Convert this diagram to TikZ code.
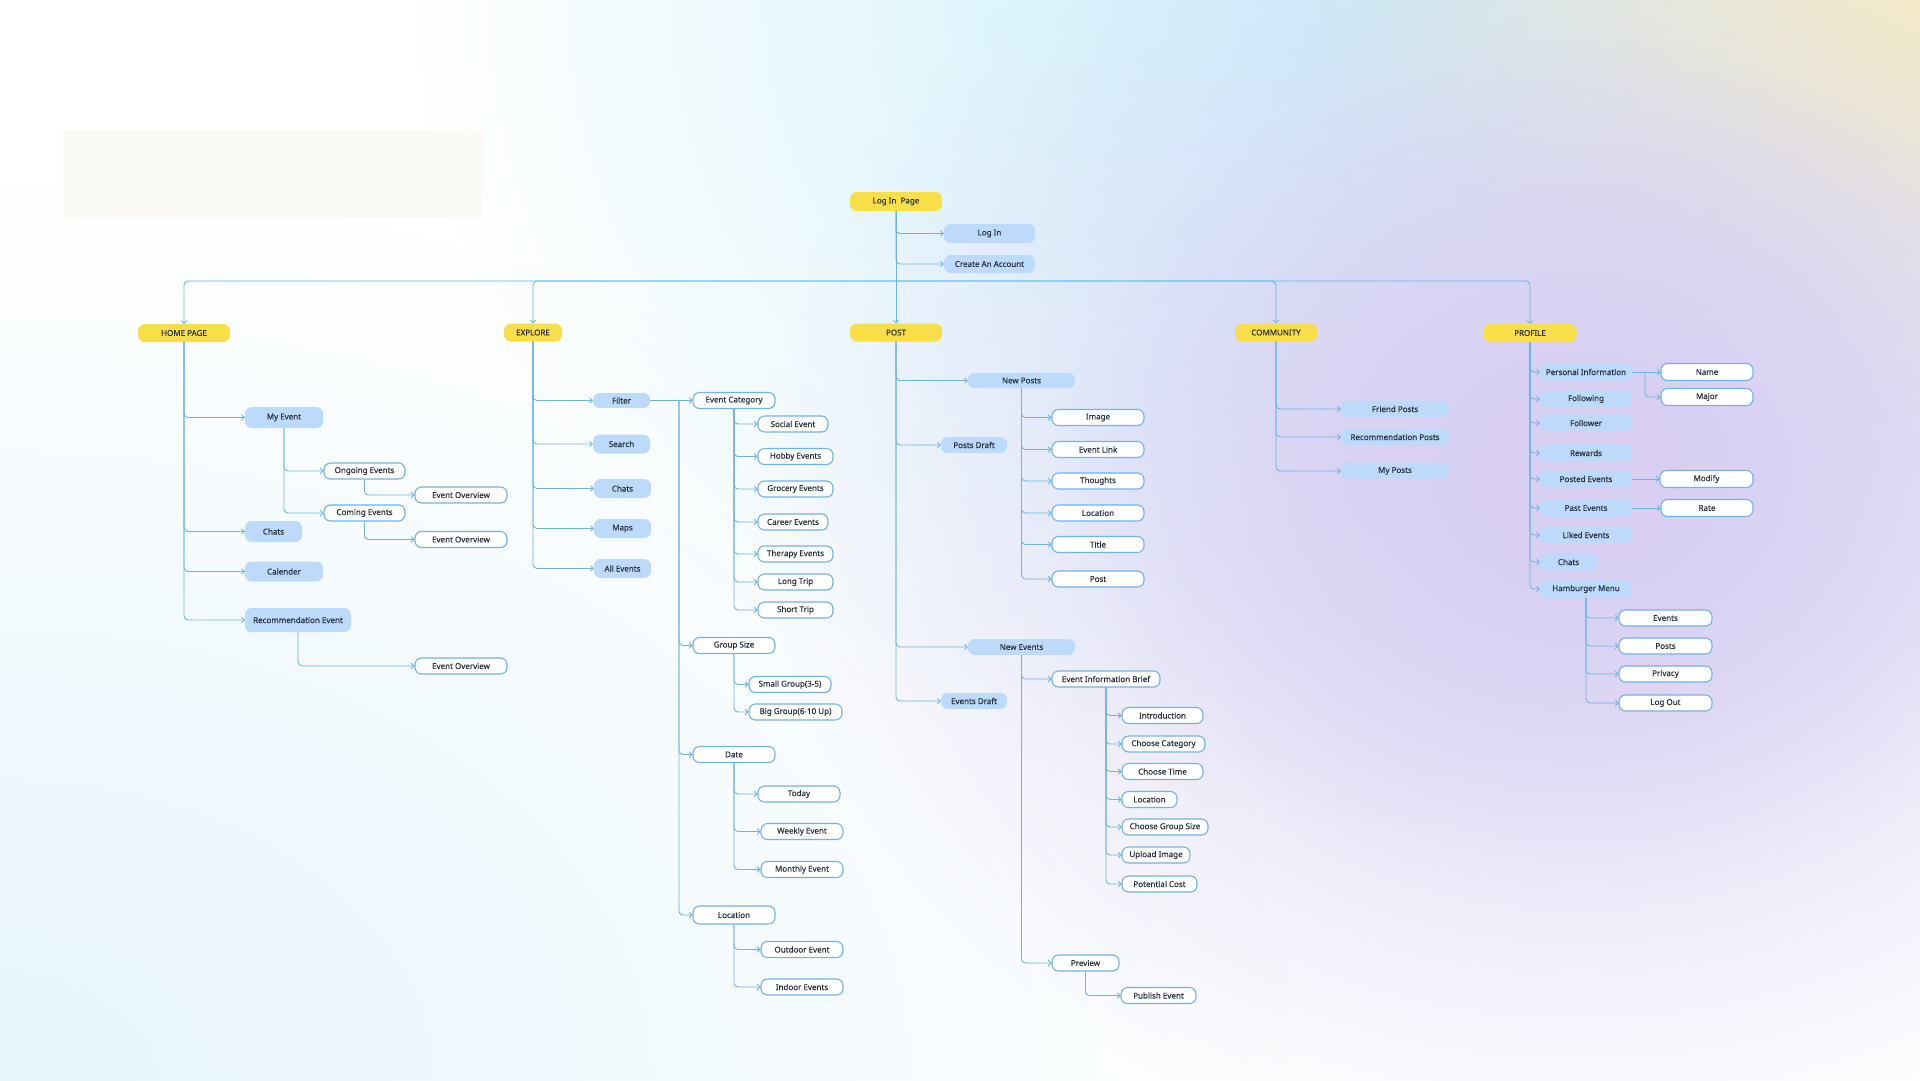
\documentclass[tikz,border=0pt]{standalone}
\usepackage{fontspec}
\setmainfont{Noto Sans}
\newfontfamily\boxfont{Noto Sans}[FakeBold=0.3]
\usetikzlibrary{arrows.meta, fadings}

\definecolor{hiyellow}{HTML}{F8DF48}
\definecolor{paleblue}{HTML}{BDDAFA}
\definecolor{edgeblue}{HTML}{74B2E4}
\definecolor{lineblue}{HTML}{6FB3E0}
\definecolor{ink}{HTML}{28303E}
\definecolor{bgcyan}{HTML}{C8EFFB}
\definecolor{bglilac}{HTML}{D8CFF3}
\definecolor{bgsky}{HTML}{E6F5FC}
\definecolor{bgsand}{HTML}{FAF0BE}
\definecolor{cream}{HTML}{FCFAF7}

\tikzfading[name=blob, inner color=transparent!0, outer color=transparent!100]

\tikzset{
  basebox/.style={rounded corners=6.5pt, inner sep=0pt, minimum height=16, text=ink, font=\boxfont\fontsize{8}{9}\selectfont},
  topbox/.style={basebox, fill=hiyellow, minimum height=18, rounded corners=7pt},
  bluebox/.style={basebox, fill=paleblue},
  whitebox/.style={basebox, fill=white, draw=edgeblue, line width=1.1pt},
  link/.style={draw=lineblue, line width=0.9pt, rounded corners=4pt},
  tip/.style={-{Straight Barb[length=2.6pt, width=5.5pt]}},
  conn/.style={link, tip},
  fan/.style={link, every edge/.append style={tip}},
  elbow/.style={to path={|- (\tikztotarget)}},
  elbowh/.style={to path={-| (\tikztotarget)}},
}

\begin{document}
\begin{tikzpicture}[x=1pt, y=-1pt]
  \useasboundingbox (0,0) rectangle (1920,1080);
  % background glow
  \begin{scope}
    \clip (0,0) rectangle (1920,1080);
    \fill[white] (0,0) rectangle (1920,1080);
    \fill[bgsky, path fading=blob] (0,1080) ellipse (1300 and 900);
    \fill[bgcyan, path fading=blob] (1420,0) ellipse (1000 and 820);
    \fill[bgsand, path fading=blob] (1920,0) ellipse (620 and 520);
    \fill[bglilac, path fading=blob] (1580,490) ellipse (820 and 680);
    \fill[bglilac, path fading=blob] (1580,470) ellipse (520 and 430);
    \fill[cream] (63,130) rectangle (482,218);
  \end{scope}

  % Log in page
  \node[topbox, minimum width=92, minimum height=19] (lpage) at (896,201.5) {Log In\ \ Page};
  \node[bluebox, minimum width=91, minimum height=19] (login) at (989.5,233.5) {Log In};
  \node[bluebox, minimum width=91, minimum height=18] (create) at (989.5,264) {Create An Account};
  \coordinate (bus) at (896,281);

  % main sections
  \node[topbox, minimum width=92] (home) at (184,333) {HOME PAGE};
  \node[topbox, minimum width=58] (explore) at (533,332.5) {EXPLORE};
  \node[topbox, minimum width=92] (post) at (896,332.5) {POST};
  \node[topbox, minimum width=82] (community) at (1276,332.5) {COMMUNITY};
  \node[topbox, minimum width=93] (profile) at (1530,333) {PROFILE};

  \draw[fan] (lpage.south) edge[elbow] (login.west) edge[elbow] (create.west) edge (post.north);
  \draw[fan] (bus) edge[elbowh] (home.north) edge[elbowh] (explore.north)
    edge[elbowh] (community.north) edge[elbowh] (profile.north);

  % Home page
  \node[bluebox, minimum width=78, minimum height=21] (myev) at (284,417.5) {My Event};
  \node[whitebox, minimum width=81] (ongo) at (364.5,471) {Ongoing Events};
  \node[whitebox, minimum width=92] (ovwa) at (461,495) {Event Overview};
  \node[whitebox, minimum width=81] (coming) at (364.5,513) {Coming Events};
  \node[whitebox, minimum width=92] (ovwb) at (461,539.5) {Event Overview};
  \node[bluebox, minimum width=57, minimum height=21] (hchats) at (273.5,531.5) {Chats};
  \node[bluebox, minimum width=78, minimum height=20] (calender) at (284,571.5) {Calender};
  \node[bluebox, minimum width=106, minimum height=24] (recev) at (298,620) {Recommendation Event};
  \node[whitebox, minimum width=92] (ovwc) at (461,666) {Event Overview};

  \draw[fan] (home.south) edge[elbow] (myev.west) edge[elbow] (hchats.west)
    edge[elbow] (calender.west) edge[elbow] (recev.west);
  \draw[fan] (myev.south) edge[elbow] (ongo.west) edge[elbow] (coming.west);
  \draw[fan] (ongo.south) edge[elbow] (ovwa.west);
  \draw[fan] (coming.south) edge[elbow] (ovwb.west);
  \draw[fan] (recev.south) edge[elbow] (ovwc.west);

  % Explore
  \node[bluebox, minimum width=57, minimum height=15] (filter) at (621.5,400.5) {Filter};
  \node[bluebox, minimum width=57, minimum height=19] (search) at (621.5,444) {Search};
  \node[bluebox, minimum width=57, minimum height=19] (echats) at (622.5,488.5) {Chats};
  \node[bluebox, minimum width=57, minimum height=19] (maps) at (622.5,528.5) {Maps};
  \node[bluebox, minimum width=57, minimum height=19] (allev) at (622.5,568.5) {All Events};

  \draw[fan] (explore.south) edge[elbow] (filter.west) edge[elbow] (search.west)
    edge[elbow] (echats.west) edge[elbow] (maps.west) edge[elbow] (allev.west);

  % Filter options
  \node[whitebox, minimum width=82] (ecat) at (734,400.5) {Event Category};
  \node[whitebox, minimum width=70] (social) at (793,424) {Social Event};
  \node[whitebox, minimum width=75] (hobby) at (795.5,456.5) {Hobby Events};
  \node[whitebox, minimum width=75] (grocery) at (795.5,489) {Grocery Events};
  \node[whitebox, minimum width=70] (career) at (793,522) {Career Events};
  \node[whitebox, minimum width=75] (therapy) at (795.5,554) {Therapy Events};
  \node[whitebox, minimum width=75] (longtrip) at (795.5,582) {Long Trip};
  \node[whitebox, minimum width=75] (shorttrip) at (795.5,610) {Short Trip};
  \node[whitebox, minimum width=82] (gsize) at (734,645.5) {Group Size};
  \node[whitebox, minimum width=82] (small) at (790,684.5) {Small Group(3-5)};
  \node[whitebox, minimum width=93] (big) at (795.5,712) {Big Group(6-10 Up)};
  \node[whitebox, minimum width=82] (date) at (734,754.5) {Date};
  \node[whitebox, minimum width=82] (today) at (799,794) {Today};
  \node[whitebox, minimum width=82] (weekly) at (802,831.5) {Weekly Event};
  \node[whitebox, minimum width=82] (monthly) at (802,869.5) {Monthly Event};
  \node[whitebox, minimum width=82, minimum height=18] (floc) at (734,915) {Location};
  \node[whitebox, minimum width=82] (outdoor) at (802,949.5) {Outdoor Event};
  \node[whitebox, minimum width=82] (indoor) at (802,987) {Indoor Events};
  \coordinate (fj) at (679,400.5);

  \draw[conn] (filter) -- (ecat);
  \draw[fan] (fj) edge[elbow] (gsize.west) edge[elbow] (date.west) edge[elbow] (floc.west);
  \draw[fan] (ecat.south) edge[elbow] (social.west) edge[elbow] (hobby.west)
    edge[elbow] (grocery.west) edge[elbow] (career.west) edge[elbow] (therapy.west)
    edge[elbow] (longtrip.west) edge[elbow] (shorttrip.west);
  \draw[fan] (gsize.south) edge[elbow] (small.west) edge[elbow] (big.west);
  \draw[fan] (date.south) edge[elbow] (today.west) edge[elbow] (weekly.west) edge[elbow] (monthly.west);
  \draw[fan] (floc.south) edge[elbow] (outdoor.west) edge[elbow] (indoor.west);

  % Post
  \node[bluebox, minimum width=107, minimum height=15] (newposts) at (1021.5,380.5) {New Posts};
  \node[bluebox, minimum width=66] (pdraft) at (974,445) {Posts Draft};
  \node[whitebox, minimum width=92] (image) at (1098,417.5) {Image};
  \node[whitebox, minimum width=92] (elink) at (1098,449.5) {Event Link};
  \node[whitebox, minimum width=92] (thoughts) at (1098,481) {Thoughts};
  \node[whitebox, minimum width=92] (ploc) at (1098,513) {Location};
  \node[whitebox, minimum width=92] (title) at (1098,544.5) {Title};
  \node[whitebox, minimum width=92] (ppost) at (1098,579) {Post};
  \node[bluebox, minimum width=107] (newev) at (1021.5,647) {New Events};
  \node[bluebox, minimum width=66] (edraft) at (974,701) {Events Draft};
  \node[whitebox, minimum width=108] (eib) at (1106,679) {Event Information Brief};
  \node[whitebox, minimum width=81] (intro) at (1162.5,715.5) {Introduction};
  \node[whitebox, minimum width=83] (chcat) at (1163.5,744) {Choose Category};
  \node[whitebox, minimum width=81] (chtime) at (1162.5,771.5) {Choose Time};
  \node[whitebox, minimum width=55] (eloc) at (1149.5,799.5) {Location};
  \node[whitebox, minimum width=86] (chgroup) at (1165,827) {Choose Group Size};
  \node[whitebox, minimum width=68] (upload) at (1156,855) {Upload Image};
  \node[whitebox, minimum width=75] (cost) at (1159.5,884) {Potential Cost};
  \node[whitebox, minimum width=67] (preview) at (1085.5,963) {Preview};
  \node[whitebox, minimum width=75] (publish) at (1158.5,995.5) {Publish Event};

  \draw[fan] (post.south) edge[elbow] (newposts.west) edge[elbow] (pdraft.west)
    edge[elbow] (newev.west) edge[elbow] (edraft.west);
  \draw[fan] (newposts.south) edge[elbow] (image.west) edge[elbow] (elink.west)
    edge[elbow] (thoughts.west) edge[elbow] (ploc.west) edge[elbow] (title.west) edge[elbow] (ppost.west);
  \draw[fan] (newev.south) edge[elbow] (eib.west) edge[elbow] (preview.west);
  \draw[fan] (eib.south) edge[elbow] (intro.west) edge[elbow] (chcat.west)
    edge[elbow] (chtime.west) edge[elbow] (eloc.west) edge[elbow] (chgroup.west)
    edge[elbow] (upload.west) edge[elbow] (cost.west);
  \draw[fan] (preview.south) edge[elbow] (publish.west);

  % Community
  \node[bluebox, minimum width=108] (friend) at (1395,409) {Friend Posts};
  \node[bluebox, minimum width=108] (recposts) at (1395,437) {Recommendation Posts};
  \node[bluebox, minimum width=108] (myposts) at (1395,471) {My Posts};

  \draw[fan] (community.south) edge[elbow] (friend.west) edge[elbow] (recposts.west) edge[elbow] (myposts.west);

  % Profile
  \node[bluebox, minimum width=92, minimum height=17] (pinfo) at (1586,372) {Personal Information};
  \node[bluebox, minimum width=92, minimum height=17] (following) at (1586,399) {Following};
  \node[bluebox, minimum width=92, minimum height=17] (follower) at (1586,423) {Follower};
  \node[bluebox, minimum width=92, minimum height=17] (rewards) at (1586,453) {Rewards};
  \node[bluebox, minimum width=92, minimum height=17] (posted) at (1586,479) {Posted Events};
  \node[bluebox, minimum width=92, minimum height=17] (past) at (1586,508) {Past Events};
  \node[bluebox, minimum width=92, minimum height=17] (liked) at (1586,535) {Liked Events};
  \node[bluebox, minimum width=57, minimum height=17] (pchats) at (1568.5,562) {Chats};
  \node[bluebox, minimum width=92, minimum height=17] (hamburger) at (1586,589) {Hamburger Menu};
  \node[whitebox, minimum width=92, minimum height=17] (name) at (1707,372) {Name};
  \node[whitebox, minimum width=92, minimum height=17] (major) at (1707,397) {Major};
  \node[whitebox, minimum width=93, minimum height=17] (modify) at (1706.5,479) {Modify};
  \node[whitebox, minimum width=92, minimum height=17] (rate) at (1707,508) {Rate};
  \node[whitebox, minimum width=93] (hevents) at (1665.5,618) {Events};
  \node[whitebox, minimum width=93] (hposts) at (1665.5,646) {Posts};
  \node[whitebox, minimum width=93] (privacy) at (1665.5,674) {Privacy};
  \node[whitebox, minimum width=93] (logout) at (1665.5,703) {Log Out};
  \coordinate (pj) at (1645,372);

  \draw[fan] (profile.south) edge[elbow] (pinfo.west) edge[elbow] (following.west)
    edge[elbow] (follower.west) edge[elbow] (rewards.west) edge[elbow] (posted.west)
    edge[elbow] (past.west) edge[elbow] (liked.west) edge[elbow] (pchats.west) edge[elbow] (hamburger.west);
  \draw[conn] (pinfo) -- (name);
  \draw[fan] (pj) edge[elbow] (major.west);
  \draw[conn] (posted) -- (modify);
  \draw[conn] (past) -- (rate);
  \draw[fan] (hamburger.south) edge[elbow] (hevents.west) edge[elbow] (hposts.west)
    edge[elbow] (privacy.west) edge[elbow] (logout.west);
\end{tikzpicture}
\end{document}
